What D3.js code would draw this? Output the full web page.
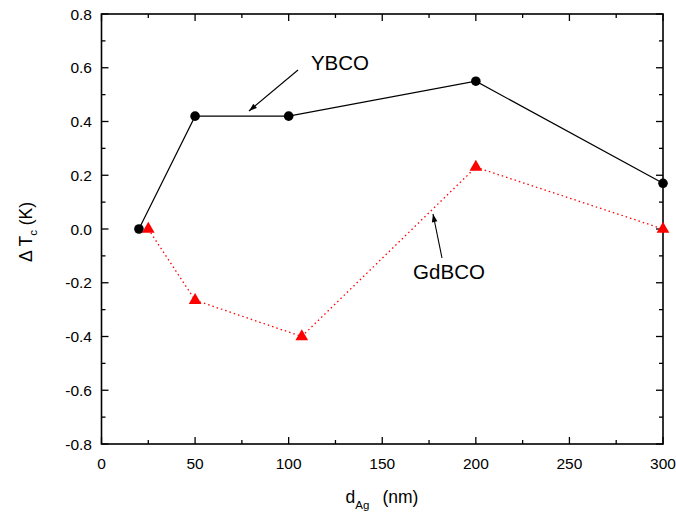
<!DOCTYPE html>
<html><head><meta charset="utf-8">
<script src="https://cdn.jsdelivr.net/npm/d3@7"></script>
<style>body{margin:0;background:#fff}svg{display:block}text{font-family:"Liberation Sans",Arial,sans-serif}</style>
</head><body>
<svg id="c" width="676" height="512"></svg>
<script>
const ybcoX = [20, 50, 100, 200, 300];
const ybcoY = [0.00, 0.42, 0.42, 0.55, 0.17];
const gdbcoX = [25, 50, 107, 200, 300];
const gdbcoY = [0.00, -0.265, -0.40, 0.23, 0.00];
const xTicks = [0, 50, 100, 150, 200, 250, 300];
const yTicks = [-0.8, -0.6, -0.4, -0.2, 0.0, 0.2, 0.4, 0.6, 0.8];

const svg = d3.select("#c");
const L = 101.5, R = 663, T = 14, B = 444;
const x = d3.scaleLinear().domain([0, 300]).range([L, R]);
const y = d3.scaleLinear().domain([-0.8, 0.8]).range([B, T]);

const defs = svg.append("defs");
defs.append("marker").attr("id","ah").attr("viewBox","0 0 10 10").attr("refX",10).attr("refY",5)
  .attr("markerWidth",10).attr("markerHeight",8).attr("markerUnits","userSpaceOnUse").attr("orient","auto")
  .append("path").attr("d","M0,1.5 L10,5 L0,8.5 Z").attr("fill","#000");

// axes
const minorX = d3.range(0, 301, 25), minorY = d3.range(-0.8, 0.801, 0.1);
const g = svg.append("g");
minorX.forEach(v=>{
  const major = Math.abs(v % 50) < 1e-6, len = major ? 7 : 4;
  g.append("line").attr("x1",x(v)).attr("x2",x(v)).attr("y1",B).attr("y2",B-len).attr("stroke","#000").attr("stroke-width",1.3);
  g.append("line").attr("x1",x(v)).attr("x2",x(v)).attr("y1",T).attr("y2",T+len).attr("stroke","#000").attr("stroke-width",1.3);
});
minorY.forEach((v,i)=>{
  const major = i % 2 === 0, len = major ? 7 : 4;
  g.append("line").attr("x1",L).attr("x2",L+len).attr("y1",y(v)).attr("y2",y(v)).attr("stroke","#000").attr("stroke-width",1.3);
  g.append("line").attr("x1",R).attr("x2",R-len).attr("y1",y(v)).attr("y2",y(v)).attr("stroke","#000").attr("stroke-width",1.3);
});
g.append("rect").attr("x",L).attr("y",T).attr("width",R-L).attr("height",B-T).attr("fill","none").attr("stroke","#000").attr("stroke-width",1.6);

svg.append("g").selectAll("text").data(xTicks).join("text")
  .attr("x",d=>x(d)).attr("y",B+24.5).attr("text-anchor","middle").attr("font-size",15.5).text(d=>d);
svg.append("g").selectAll("text").data(yTicks).join("text")
  .attr("x",L-9.5).attr("y",d=>y(d)+5.5).attr("text-anchor","end").attr("font-size",15.5).text(d=>d.toFixed(1));

// axis titles
const xt = svg.append("text").attr("x",382).attr("y",503).attr("text-anchor","middle").attr("font-size",17.5);
xt.append("tspan").text("d");
xt.append("tspan").attr("font-size",11.5).attr("dy",6).text("Ag");
xt.append("tspan").attr("dy",-6).attr("dx",13).text("(nm)");
const yt = svg.append("text").attr("transform","translate(32,232) rotate(-90)").attr("text-anchor","middle").attr("font-size",17.5);
yt.append("tspan").text("\u0394 T");
yt.append("tspan").attr("font-size",11.5).attr("dy",5).text("c");
yt.append("tspan").attr("dy",-5).text(" (K)");

// series
const line = d3.line();
const yb = ybcoX.map((v,i)=>[x(v), y(ybcoY[i])]);
const gd = gdbcoX.map((v,i)=>[x(v), y(gdbcoY[i])]);
svg.append("path").attr("d",line(yb)).attr("fill","none").attr("stroke","#000").attr("stroke-width",1.2);
svg.append("path").attr("d",line(gd)).attr("fill","none").attr("stroke","#ff0000").attr("stroke-width",1.3).attr("stroke-dasharray","1.5,3");
svg.append("g").selectAll("circle").data(yb).join("circle").attr("cx",d=>d[0]).attr("cy",d=>d[1]).attr("r",4.8).attr("fill","#000");
const tri = d3.symbol().type(d3.symbolTriangle).size(70);
svg.append("g").selectAll("path").data(gd).join("path").attr("transform",d=>`translate(${d[0]},${d[1]})`).attr("d",tri).attr("fill","#ff0000");

// annotations
svg.append("text").attr("x",340).attr("y",70).attr("text-anchor","middle").attr("font-size",20.5).text("YBCO");
svg.append("line").attr("x1",298).attr("y1",70).attr("x2",249).attr("y2",111).attr("stroke","#000").attr("stroke-width",1.1).attr("marker-end","url(#ah)");
svg.append("text").attr("x",449).attr("y",278.5).attr("text-anchor","middle").attr("font-size",20.5).text("GdBCO");
svg.append("line").attr("x1",442).attr("y1",258).attr("x2",433).attr("y2",214).attr("stroke","#000").attr("stroke-width",1.1).attr("marker-end","url(#ah)");
</script>
</body></html>
